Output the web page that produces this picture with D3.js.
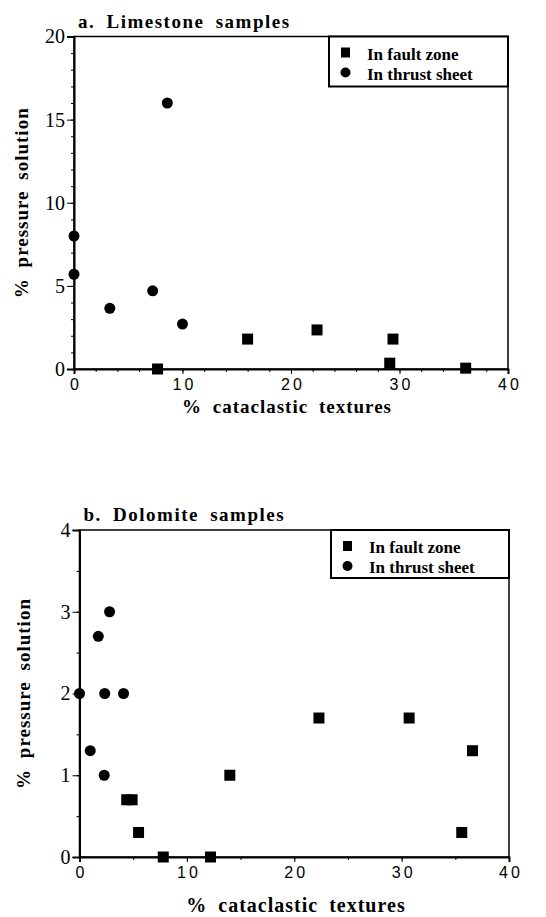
<!DOCTYPE html>
<html>
<head>
<meta charset="utf-8">
<script src="https://cdn.jsdelivr.net/npm/d3@7"></script>
<style>
  body { margin: 0; background: #fff; }
  .bold { font-family: "Liberation Serif", serif; font-weight: bold; }
</style>
</head>
<body>
<div id="chart"></div>
<script>
var svgWidth = 546;
var svgHeight = 917;

// panel a: limestone
var limeFaultX = [7.7, 16, 22.4, 29.4, 29.1, 36.1];
var limeFaultY = [0, 1.8, 2.35, 1.8, 0.35, 0.05];
var limeThrustX = [8.6, 0, 0, 3.3, 7.25, 10];
var limeThrustY = [16, 8, 5.7, 3.65, 4.7, 2.7];
var limeYTicks = [0, 5, 10, 15, 20];

// panel b: dolomite
var doloFaultX = [4.4, 4.9, 5.5, 7.8, 12.2, 14, 22.3, 30.7, 35.6, 36.6];
var doloFaultY = [0.7, 0.7, 0.3, 0, 0, 1.0, 1.7, 1.7, 0.3, 1.3];
var doloThrustX = [0, 1.0, 1.75, 2.8, 2.35, 4.1, 2.3];
var doloThrustY = [2, 1.3, 2.7, 3, 2, 2, 1];
var doloYTicks = [0, 1, 2, 3, 4];

var xTicks = [0, 10, 20, 30, 40];
var legendLabels = ["In fault zone", "In thrust sheet"];

var svg = d3.select("#chart")
    .append("svg")
        .attr("width", svgWidth)
        .attr("height", svgHeight);

function drawPanel(p) {
    var x = d3.scaleLinear().domain([0, 40]).range([p.left, p.right]);
    var y = d3.scaleLinear().domain([0, p.yMax]).range([p.bottom, p.top]);
    var g = svg.append("g");

    // frame
    g.append("rect")
        .attr("x", p.left).attr("y", p.top)
        .attr("width", p.right - p.left).attr("height", p.bottom - p.top)
        .style("fill", "none").style("stroke", "#000").style("stroke-width", 1.5);

    // minor ticks
    g.append("g")
        .attr("transform", "translate(" + p.left + ",0)")
        .call(d3.axisLeft(y).tickValues(d3.range(0, p.yMax, p.yMinor)).tickSize(3).tickFormat(""))
        .call(s => s.select(".domain").remove());
    g.append("g")
        .attr("transform", "translate(0," + p.bottom + ")")
        .call(d3.axisBottom(x).tickValues(d3.range(0, 40, p.xMinor)).tickSize(3).tickFormat(""))
        .call(s => s.select(".domain").remove());

    // major axes
    var ya = g.append("g")
        .attr("transform", "translate(" + p.left + ",0)")
        .call(d3.axisLeft(y).tickValues(p.yTicks).tickSize(7).tickPadding(2).tickFormat(d3.format("d")));
    ya.select(".domain").style("stroke-width", 2);
    ya.selectAll(".tick text")
        .style("font-family", "'Liberation Serif', serif")
        .style("font-size", "20px");

    var xa = g.append("g")
        .attr("transform", "translate(0," + p.bottom + ")")
        .call(d3.axisBottom(x).tickValues(xTicks).tickSize(5).tickPadding(5));
    xa.select(".domain").style("stroke-width", 2);
    xa.selectAll(".tick text")
        .style("font-family", "'Liberation Sans', sans-serif")
        .style("font-size", "16px")
        .style("letter-spacing", "3px")
        .attr("dx", "1.5px");

    // markers
    g.selectAll(".sq")
        .data(p.faultX.map((d, i) => [d, p.faultY[i]]))
        .enter().append("rect")
        .attr("x", d => x(d[0]) - 5.5).attr("y", d => y(d[1]) - 5.5)
        .attr("width", 11).attr("height", 11)
        .style("fill", "#000");
    g.selectAll(".dot")
        .data(p.thrustX.map((d, i) => [d, p.thrustY[i]]))
        .enter().append("circle")
        .attr("cx", d => x(d[0])).attr("cy", d => y(d[1]))
        .attr("r", 5.5)
        .style("fill", "#000");

    // legend
    var lg = g.append("g").attr("transform", "translate(" + p.legX + "," + p.top + ")");
    lg.append("rect")
        .attr("width", p.right - p.legX).attr("height", p.legH)
        .style("fill", "#fff").style("stroke", "#000").style("stroke-width", 2);
    lg.append("rect").attr("x", 12).attr("y", 11).attr("width", 9).attr("height", 10).style("fill", "#000");
    lg.append("circle").attr("cx", 16.5).attr("cy", 36).attr("r", 5).style("fill", "#000");
    legendLabels.forEach(function(t, i) {
        lg.append("text").attr("class", "bold")
            .attr("x", 38).attr("y", 23 + i * 20)
            .style("font-size", "17px")
            .text(t);
    });

    // titles
    g.append("text").attr("class", "bold")
        .attr("x", p.left + 4).attr("y", p.top - 9)
        .style("font-size", "19px")
        .style("letter-spacing", "1.5px")
        .style("word-spacing", "5px")
        .text(p.title);
    g.append("text").attr("class", "bold")
        .attr("x", p.xLabelX).attr("y", p.xLabelY)
        .attr("text-anchor", "middle")
        .style("font-size", p.xLabelSize)
        .style("letter-spacing", "1px")
        .style("word-spacing", "5px")
        .text("% cataclastic textures");
    g.append("text").attr("class", "bold")
        .attr("transform", "translate(" + p.yLabelX + "," + (p.top + p.bottom) / 2 + ") rotate(-90)")
        .attr("text-anchor", "middle")
        .style("font-size", "19px")
        .style("letter-spacing", "1px")
        .style("word-spacing", "5px")
        .text("% pressure solution");
}

drawPanel({
    left: 74, right: 508, top: 36.5, bottom: 369, yMax: 20,
    yTicks: limeYTicks, yMinor: 1, xMinor: 2,
    faultX: limeFaultX, faultY: limeFaultY, thrustX: limeThrustX, thrustY: limeThrustY,
    legX: 329, legH: 50, title: "a. Limestone samples",
    xLabelX: 287, xLabelY: 413, xLabelSize: "19px", yLabelX: 28
});

drawPanel({
    left: 79.5, right: 509, top: 530, bottom: 857, yMax: 4,
    yTicks: doloYTicks, yMinor: 0.5, xMinor: 5,
    faultX: doloFaultX, faultY: doloFaultY, thrustX: doloThrustX, thrustY: doloThrustY,
    legX: 331, legH: 48, title: "b. Dolomite samples",
    xLabelX: 296, xLabelY: 912, xLabelSize: "20px", yLabelX: 30
});
</script>
</body>
</html>
